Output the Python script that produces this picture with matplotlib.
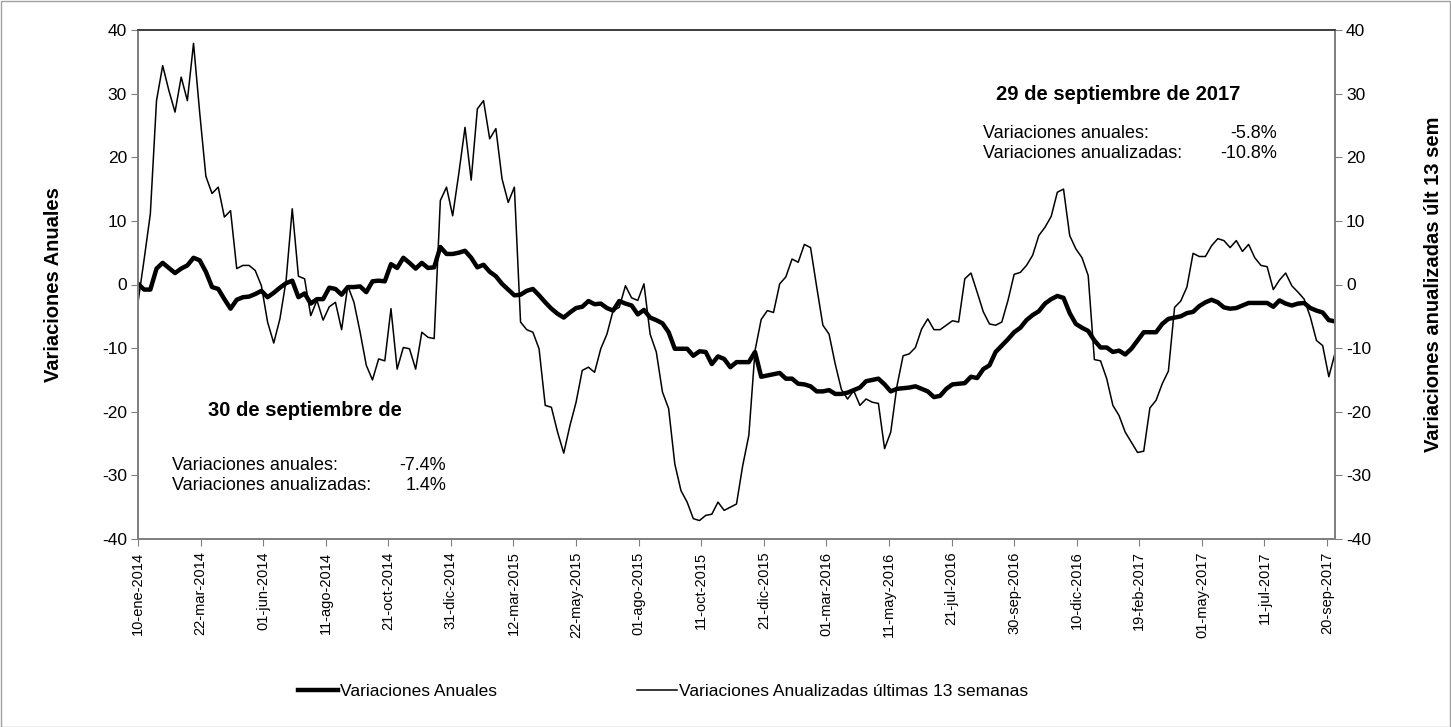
import matplotlib
matplotlib.use("Agg")
import matplotlib.pyplot as plt
import matplotlib.dates as mdates
import pandas as pd
import numpy as np

plt.rcParams['font.family'] = ['Liberation Sans', 'DejaVu Sans']
plt.rcParams['axes.unicode_minus'] = False

start_date = "2014-01-10"
n_weeks = 195

anuales = [
    0.1, -0.8, -0.8, 2.5, 3.4, 2.6, 1.8, 2.5, 3.0, 4.2,
    3.8, 2.0, -0.4, -0.7, -2.3, -3.8, -2.4, -2.0, -1.9, -1.5,
    -1.0, -2.0, -1.3, -0.5, 0.2, 0.6, -2.0, -1.4, -3.0, -2.3,
    -2.3, -0.5, -0.7, -1.6, -0.4, -0.4, -0.3, -1.2, 0.5, 0.6,
    0.5, 3.2, 2.6, 4.2, 3.4, 2.5, 3.4, 2.6, 2.7, 5.9,
    4.8, 4.8, 5.0, 5.3, 4.2, 2.7, 3.1, 2.0, 1.3, 0.1,
    -0.8, -1.7, -1.6, -1.0, -0.7, -1.7, -2.8, -3.8, -4.6, -5.2,
    -4.4, -3.7, -3.5, -2.6, -3.1, -3.0, -3.7, -4.1, -2.6, -3.0,
    -3.3, -4.7, -4.0, -5.2, -5.6, -6.1, -7.5, -10.1, -10.1, -10.1,
    -11.2, -10.5, -10.6, -12.5, -11.3, -11.7, -13.0, -12.2, -12.2, -12.2,
    -10.6, -14.5, -14.3, -14.1, -13.9, -14.8, -14.8, -15.6, -15.7, -16.0,
    -16.8, -16.8, -16.6, -17.2, -17.2, -17.0, -16.6, -16.2, -15.2, -15.0,
    -14.8, -15.7, -16.8, -16.4, -16.3, -16.2, -16.0, -16.4, -16.8, -17.7,
    -17.5, -16.4, -15.7, -15.6, -15.5, -14.5, -14.7, -13.3, -12.7, -10.6,
    -9.6, -8.6, -7.5, -6.8, -5.6, -4.8, -4.2, -3.0, -2.3, -1.8,
    -2.1, -4.5, -6.2, -6.8, -7.3, -8.8, -9.9, -9.9, -10.6, -10.4,
    -11.0, -10.1, -8.8, -7.5, -7.5, -7.5, -6.2, -5.4, -5.2, -5.0,
    -4.5, -4.3, -3.4, -2.8, -2.4, -2.8, -3.6, -3.8, -3.7, -3.3,
    -2.9, -2.9, -2.9, -2.9, -3.5, -2.5, -3.0, -3.3, -3.0, -2.9,
    -3.7, -4.1, -4.4, -5.6, -5.8,
]

anualizadas = [
    -2.8, 4.0, 11.1, 28.9, 34.4, 30.5, 27.1, 32.6, 28.9, 37.9,
    27.0, 17.0, 14.3, 15.3, 10.6, 11.6, 2.5, 3.0, 3.0, 2.2,
    -0.2, -5.9, -9.2, -5.4, 0.6, 11.9, 1.3, 0.9, -4.9, -2.5,
    -5.6, -3.5, -2.8, -7.1, -0.2, -2.8, -7.5, -12.7, -15.0, -11.7,
    -12.0, -3.8, -13.3, -9.9, -10.1, -13.3, -7.5, -8.3, -8.5, 13.2,
    15.3, 10.8, 17.5, 24.7, 16.4, 27.6, 28.9, 22.9, 24.5, 16.6,
    12.9, 15.3, -5.9, -7.1, -7.5, -10.1, -19.0, -19.3, -23.2, -26.5,
    -22.2, -18.5, -13.5, -13.0, -13.8, -10.1, -7.8, -4.1, -3.6, -0.2,
    -2.1, -2.5, 0.1, -7.8, -10.6, -16.9, -19.5, -28.2, -32.4, -34.2,
    -36.8, -37.1, -36.3, -36.1, -34.2, -35.5, -35.0, -34.5, -28.5, -23.7,
    -10.4, -5.5, -4.1, -4.4, 0.1, 1.2, 4.0, 3.5, 6.3, 5.8,
    -0.4, -6.4, -7.8, -12.5, -16.5, -18.0, -16.7, -19.0, -18.0, -18.5,
    -18.7, -25.8, -23.2, -16.0, -11.2, -10.9, -9.9, -7.0, -5.4, -7.1,
    -7.1, -6.4, -5.7, -5.9, 0.9, 1.8, -1.2, -4.3, -6.2, -6.4,
    -5.9, -2.5, 1.6, 1.9, 3.0, 4.6, 7.7, 9.0, 10.7, 14.5,
    15.0, 7.7, 5.6, 4.2, 1.4, -11.8, -12.0, -14.8, -19.0, -20.6,
    -23.2, -24.8, -26.4, -26.2, -19.4, -18.2, -15.6, -13.6, -3.6, -2.6,
    -0.4, 4.9, 4.4, 4.4, 6.1, 7.2, 6.9, 5.8, 6.9, 5.2,
    6.3, 4.2, 3.0, 2.8, -0.8, 0.7, 1.8, -0.2, -1.2, -2.3,
    -5.1, -8.8, -9.6, -14.5, -10.8,
]

tick_labels = [
    "10-ene-2014", "22-mar-2014", "01-jun-2014", "11-ago-2014", "21-oct-2014",
    "31-dic-2014", "12-mar-2015", "22-may-2015", "01-ago-2015", "11-oct-2015",
    "21-dic-2015", "01-mar-2016", "11-may-2016", "21-jul-2016", "30-sep-2016",
    "10-dic-2016", "19-feb-2017", "01-may-2017", "11-jul-2017", "20-sep-2017",
]

y_ticks = [-40, -30, -20, -10, 0, 10, 20, 30, 40]

meses = {"ene": 1, "feb": 2, "mar": 3, "abr": 4, "may": 5, "jun": 6,
         "jul": 7, "ago": 8, "sep": 9, "oct": 10, "nov": 11, "dic": 12}


def parse_es(s):
    d, m, y = s.split("-")
    return pd.Timestamp(int(y), meses[m], int(d))


dates = pd.date_range(start_date, periods=n_weeks, freq="7D")
tick_pos = [parse_es(s) for s in tick_labels]

W, H = 1451, 727
fig = plt.figure(figsize=(W / 100, H / 100), dpi=100)
fig.patch.set_facecolor("white")

# outer border
fig.add_artist(plt.Rectangle((0.5 / W, 0.5 / H), 1 - 1.5 / W, 1 - 1.5 / H,
                             transform=fig.transFigure, fill=False,
                             edgecolor="#a0a0a0", linewidth=1.0))

left, right, top, bottom = 138, 1335, 30, 539
ax = fig.add_axes([left / W, 1 - bottom / H, (right - left) / W, (bottom - top) / H])
ax2 = ax.twinx()

l1, = ax.plot(dates, anuales, color="black", linewidth=3.2,
              solid_joinstyle="round", label="Variaciones Anuales", zorder=3)
l2, = ax.plot(dates, anualizadas, color="black", linewidth=1.1,
              label="Variaciones Anualizadas últimas 13 semanas", zorder=2)

for a in (ax, ax2):
    a.set_ylim(-40, 40)
    a.set_yticks(y_ticks)
ax.set_xlim(dates[0], dates[-1])

ax.set_xticks(tick_pos)
ax.set_xticklabels(tick_labels, rotation=90, fontsize=10.5)
ax.tick_params(axis="x", direction="out", length=5, color="#808080", pad=4)
ax.tick_params(axis="y", direction="out", length=5, color="#808080", labelsize=12.5, pad=3)
ax2.tick_params(axis="y", direction="out", length=5, color="#808080", labelsize=12.5, pad=3)

for a in (ax, ax2):
    for s in ("left", "right", "bottom"):
        a.spines[s].set_color("#808080")
        a.spines[s].set_linewidth(1.3)
    a.spines["top"].set_color("#404040")
    a.spines["top"].set_linewidth(1.3)

ax.set_ylabel("Variaciones Anuales", fontsize=14.5, fontweight="bold", labelpad=28)
ax2.set_ylabel("Variaciones anualizadas últ 13 sem", fontsize=14.5,
               fontweight="bold", labelpad=38)


def ft(x, y, s, **kw):
    fig.text(x / W, 1 - y / H, s, **kw)


# left annotation
ft(208, 410, "30 de septiembre de", fontsize=14.5, fontweight="bold", va="center", ha="left")
ft(172, 465, "Variaciones anuales:", fontsize=13, va="center", ha="left")
ft(446, 465, "-7.4%", fontsize=13, va="center", ha="right")
ft(172, 485, "Variaciones anualizadas:", fontsize=13, va="center", ha="left")
ft(446, 485, "1.4%", fontsize=13, va="center", ha="right")

# right annotation
ft(996, 95, "29 de septiembre de 2017", fontsize=14.5, fontweight="bold", va="center", ha="left")
ft(983, 134, "Variaciones anuales:", fontsize=13, va="center", ha="left")
ft(1277, 134, "-5.8%", fontsize=13, va="center", ha="right")
ft(983, 154, "Variaciones anualizadas:", fontsize=13, va="center", ha="left")
ft(1277, 154, "-10.8%", fontsize=13, va="center", ha="right")

fig.legend(handles=[l1, l2], loc="center left", bbox_to_anchor=(298 / W, 1 - 691 / H),
           ncol=2, frameon=False, fontsize=12.5, handlelength=2.3,
           columnspacing=8.1, handletextpad=0.1, borderpad=0, borderaxespad=0)

fig.savefig("out.png", dpi=100, facecolor="white")
